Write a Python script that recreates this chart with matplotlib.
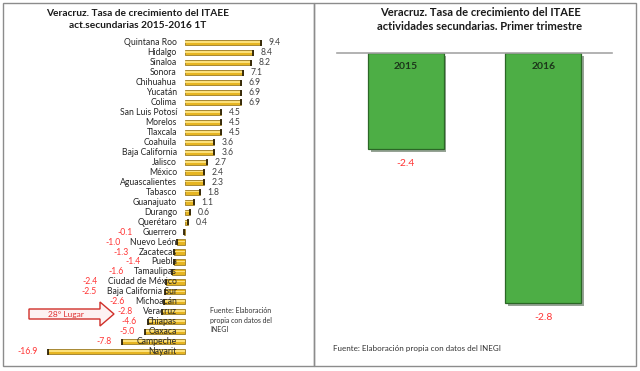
import matplotlib
matplotlib.use('Agg')
import matplotlib.pyplot as plt
import matplotlib.patheffects as pe
from matplotlib.patches import Rectangle, Polygon

plt.rcParams['font.family'] = ['Lato', 'DejaVu Sans']

# ---------- datos ----------
estados = ['Quintana Roo', 'Hidalgo', 'Sinaloa', 'Sonora', 'Chihuahua', 'Yucatán',
           'Colima', 'San Luis Potosí', 'Morelos', 'Tlaxcala', 'Coahuila',
           'Baja California', 'Jalisco', 'México', 'Aguascalientes', 'Tabasco',
           'Guanajuato', 'Durango', 'Querétaro', 'Guerrero', 'Nuevo León',
           'Zacatecas', 'Puebla', 'Tamaulipas', 'Ciudad de México',
           'Baja California Sur', 'Michoacán', 'Veracruz', 'Chiapas', 'Oaxaca',
           'Campeche', 'Nayarit']
tasas = [9.4, 8.4, 8.2, 7.1, 6.9, 6.9, 6.9, 4.5, 4.5, 4.5, 3.6, 3.6, 2.7, 2.4,
         2.3, 1.8, 1.1, 0.6, 0.4, -0.1, -1.0, -1.3, -1.4, -1.6, -2.4, -2.5,
         -2.6, -2.8, -4.6, -5.0, -7.8, -16.9]

anios = ['2015', '2016']
veracruz = [-2.4, -2.8]

W, H = 640, 371
fig = plt.figure(figsize=(6.4, 3.71), dpi=100)


def fx(px):
    return px / W


def fy(py):
    return 1 - py / H


# ---------- panel izquierdo: barras horizontales ----------
escala = 8.1  # px por unidad
cero = 185
ax1 = fig.add_axes([fx(40), fy(356.7), 250 / W, 319 / H])
ax1.set_xlim((40 - cero) / escala, (290 - cero) / escala)
ax1.set_ylim(len(estados) - 0.5, -0.5)
ax1.axis('off')

y = list(range(len(estados)))
ax1.barh(y, tasas, height=0.52, color='#E6B522', edgecolor='#8A6A12', linewidth=0.5)
ax1.barh([v - 0.06 for v in y], tasas, height=0.16, color='#FBE07A', linewidth=0)
ax1.scatter(tasas, y, marker='|', s=18, color='#2E2205', linewidths=1.3, zorder=3)

etiquetas = []
for i, nombre in enumerate(estados):
    t = ax1.annotate(nombre, xy=(0, i), xytext=(-5.8, 0), textcoords='offset points',
                     ha='right', va='center', fontsize=6.2, color='#262626')
    etiquetas.append(t)

fig.canvas.draw()
r = fig.canvas.get_renderer()
inv = ax1.transData.inverted()
for i, v in enumerate(tasas):
    if v >= 0:
        ax1.annotate(f'{v:.1f}', xy=(v, i), xytext=(5.5, 0), textcoords='offset points',
                     ha='left', va='center', fontsize=6.2, color='#404040')
    else:
        izq = etiquetas[i].get_window_extent(r).x0
        fin = ax1.transData.transform((v, i))
        xd = min(izq, fin[0]) - 10
        xv = inv.transform((xd, fin[1]))[0]
        ax1.text(xv, i, f'{v:.1f}', ha='right', va='center', fontsize=6.2, color='#FF3535')

# ---------- panel derecho: Veracruz ----------
tope = -2.15
ax2 = fig.add_axes([fx(337), fy(361), 275 / W, 308 / H])
ax2.set_xlim(-0.5, 1.5)
ax2.set_ylim(-2.95, tope)
pos = range(len(anios))
barras = ax2.bar(pos, [v - tope for v in veracruz], bottom=tope, width=0.55,
                 color='#4DAE45', edgecolor='#2B6726', linewidth=0.9)
for b in barras:
    b.set_path_effects([pe.SimplePatchShadow(offset=(2, -2), alpha=0.45), pe.Normal()])
for spine in ['bottom', 'left', 'right']:
    ax2.spines[spine].set_visible(False)
ax2.spines['top'].set_color('#A6A6A6')
ax2.spines['top'].set_linewidth(1.2)
ax2.set_xticks([])
ax2.set_yticks([])
ax2.patch.set_alpha(0)
for i, (a, v) in enumerate(zip(anios, veracruz)):
    ax2.annotate(a, xy=(i, tope), xytext=(0, -10), textcoords='offset points',
                 ha='center', va='center', fontsize=7.5, fontweight='bold', color='#1C361A')
    ax2.annotate(f'{v:.1f}', xy=(i, v), xytext=(0, -10), textcoords='offset points',
                 ha='center', va='center', fontsize=7.5, color='#FF3535')

# ---------- marcos, títulos y notas ----------
ov = fig.add_axes([0, 0, 1, 1], zorder=5)
ov.set_xlim(0, W)
ov.set_ylim(H, 0)
ov.axis('off')
ov.patch.set_alpha(0)

ov.add_patch(Rectangle((3, 3), 311, 363, fill=False, edgecolor='#8C8C8C', linewidth=1))
ov.add_patch(Rectangle((314, 3), 322, 363, fill=False, edgecolor='#8C8C8C', linewidth=1))

ov.text(138, 13, 'Veracruz. Tasa de crecimiento del ITAEE', ha='center', va='center',
        fontsize=7.3, fontweight='bold', color='#1A1A1A')
ov.text(138, 25, 'act.secundarias 2015-2016 1T', ha='center', va='center',
        fontsize=7.3, fontweight='bold', color='#1A1A1A')
ov.text(480, 13, 'Veracruz. Tasa de crecimiento del ITAEE', ha='center', va='center',
        fontsize=8, fontweight='bold', color='#1A1A1A')
ov.text(480, 27, 'actividades secundarias. Primer trimestre', ha='center', va='center',
        fontsize=8, fontweight='bold', color='#1A1A1A')

# flecha "28° Lugar"
flecha = [(29, 309), (100, 309), (100, 302), (114, 314), (100, 326), (100, 319), (29, 319)]
ov.add_patch(Polygon(flecha, closed=True, facecolor='#FDF2F2', edgecolor='#D0302A', linewidth=1))
ov.text(66, 314, '28° Lugar', ha='center', va='center', fontsize=6, color='#E03030')

ov.text(210, 307, 'Fuente: Elaboración\npropia con datos del\nINEGI', ha='left', va='top',
        fontsize=5, linespacing=1.45, color='#333333')
ov.text(333, 348, 'Fuente: Elaboración propia con datos del INEGI', ha='left', va='center',
        fontsize=5.8, color='#333333')

fig.savefig('out.png', dpi=100)
